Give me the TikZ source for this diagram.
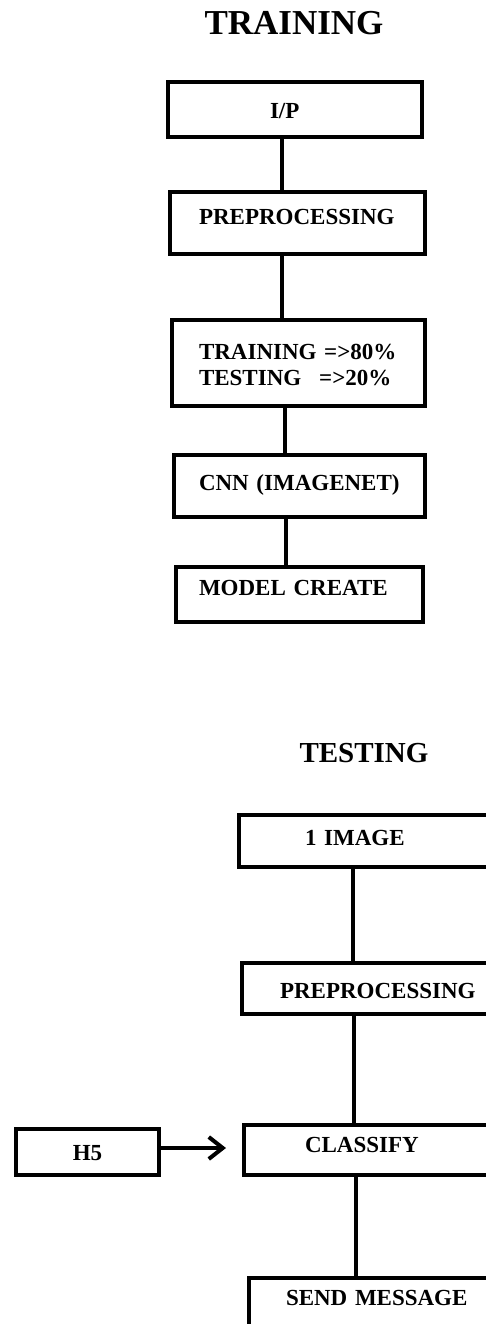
\documentclass[tikz,border=0pt]{standalone}
\usepackage{fontspec}
\setmainfont{Liberation Serif}
\usetikzlibrary{arrows.meta}

\tikzset{
  box/.style={draw, line width=4pt, anchor=north west, inner ysep=0pt,
    align=left, font=\fontsize{23}{26}\selectfont\bfseries},
  link/.style={line width=4pt},
  heading/.style={anchor=base, inner sep=0pt}
}

\begin{document}
\begin{tikzpicture}[x=1pt,y=-1pt]
\useasboundingbox (0,0) rectangle (486,1324);
\clip (0,0) rectangle (486,1324);

% Training part
\node[heading, font=\fontsize{35}{40}\selectfont\bfseries] (trainhead) at (294,35) {TRAINING};
\node[box, inner xsep=102pt, text width=50pt, text height=37pt, text depth=18pt] (ip) at (166,80) {I/P};
\node[box, inner xsep=29pt, text width=197pt, text height=33pt, text depth=29pt] (prepA) at (168,190) {PREPROCESSING};
\node[box, inner xsep=27pt, text width=199pt, text height=39pt, text depth=47pt] (split) at (170,318)
    {TRAINING =>80\%\\TESTING\hspace{18pt}=>20\%};
\node[box, inner xsep=25pt, text width=201pt, text height=35pt, text depth=27pt] (cnn) at (172,453) {CNN (IMAGENET)};
\node[box, inner xsep=23pt, text width=201pt, text height=28pt, text depth=27pt] (model) at (174,565) {MODEL CREATE};

% Draw the links of the training part
\draw[link] ([xshift=-13pt]ip.south) -- ([xshift=-13pt]ip.south |- prepA.north);
\draw[link] ([xshift=-15.5pt]prepA.south) -- ([xshift=-15.5pt]prepA.south |- split.north);
\draw[link] ([xshift=-13.5pt]split.south) -- ([xshift=-13.5pt]split.south |- cnn.north);
\draw[link] ([xshift=-13.5pt]cnn.south) -- ([xshift=-13.5pt]cnn.south |- model.north);

% Testing part
\node[heading, font=\fontsize{29}{34}\selectfont\bfseries] (testhead) at (364,762) {TESTING};
\node[box, inner xsep=66pt, text width=140pt, text height=30pt, text depth=22pt] (img) at (237,813) {1 IMAGE};
\node[box, inner xsep=38pt, text width=194pt, text height=35pt, text depth=16pt] (prepB) at (240,961) {PREPROCESSING};
\node[box, inner xsep=61pt, text width=141pt, text height=27pt, text depth=23pt] (classify) at (242,1123) {CLASSIFY};
\node[box, align=center, inner xsep=10pt, text width=123pt, text height=31pt, text depth=15pt] (hfive) at (14,1127) {H5};
\node[box, inner xsep=37pt, text width=189pt, text height=27pt, text depth=70pt] (send) at (247,1276) {SEND MESSAGE};

% Draw the links of the testing part
\draw[link] ([xshift=-22pt]img.south) -- ([xshift=-22pt]img.south |- prepB.north);
\draw[link] ([xshift=-23pt]prepB.south) -- ([xshift=-23pt]prepB.south |- classify.north);
\draw[link] ([xshift=-19.5pt]classify.south) -- ([xshift=-19.5pt]classify.south |- send.north);
\draw[link, -{Straight Barb[length=14pt, width=22pt]}]
    ([yshift=4pt]hfive.east) -- ([xshift=-16pt,yshift=4pt]classify.west |- hfive.east);

\end{tikzpicture}
\end{document}
